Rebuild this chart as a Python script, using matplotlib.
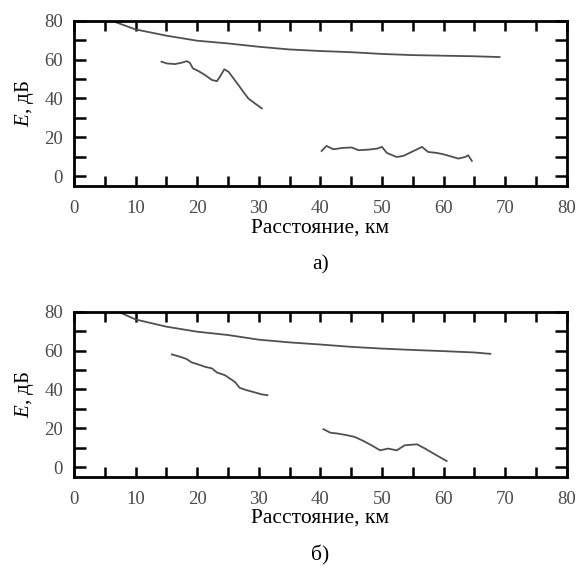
import matplotlib
matplotlib.use("Agg")
import matplotlib.pyplot as plt
from matplotlib.ticker import MultipleLocator

plt.rcParams["font.family"] = ["Liberation Serif", "DejaVu Serif"]
plt.rcParams["mathtext.fontset"] = "custom"
plt.rcParams["mathtext.rm"] = "Liberation Serif"
plt.rcParams["mathtext.it"] = "Liberation Serif:italic"

# --- panel a) ---
a_smooth_x = [6.1, 10, 15, 20, 25, 30, 35, 40, 45, 50, 55, 60, 65, 69.1]
a_smooth_y = [80, 75.5, 72.3, 69.7, 68.3, 66.6, 65.2, 64.4, 63.8, 62.9, 62.3, 62.0, 61.7, 61.3]

a_mid_x = [14.2, 15.1, 16.4, 17.5, 18.3, 18.8, 19.3, 20.2, 21.3, 22.4, 23.2, 23.7, 24.4,
           25.1, 25.9, 26.7, 27.5, 28.3, 29.4, 30.5]
a_mid_y = [58.9, 58.0, 57.7, 58.4, 59.2, 58.4, 55.5, 54.1, 52.0, 49.5, 48.9, 51.2, 55.0,
           53.7, 50.3, 46.9, 43.4, 40.0, 37.4, 34.9]

a_low_x = [40.2, 41.0, 42.1, 43.7, 45.1, 46.2, 47.8, 49.2, 50.0, 50.8, 52.4, 53.5, 54.8,
           56.5, 57.5, 58.9, 60.0, 61.1, 62.4, 63.5, 64.0, 64.6]
a_low_y = [13.0, 15.6, 13.9, 14.6, 14.8, 13.4, 13.7, 14.2, 15.1, 12.0, 9.9, 10.5, 12.5,
           15.1, 12.5, 12.0, 11.3, 10.3, 9.1, 9.9, 10.8, 7.9]

# --- panel б) ---
b_smooth_x = [7.2, 10, 15, 20, 25, 30, 35, 40, 45, 50, 55, 60, 65, 67.6]
b_smooth_y = [80, 76, 72.3, 69.7, 68, 65.6, 64.2, 63.1, 61.9, 61, 60.3, 59.7, 59, 58.3]

b_mid_x = [15.9, 16.9, 17.7, 18.3, 19.1, 20.2, 21.3, 22.4, 23.2, 24.5, 25.3, 26.1, 26.9,
           28.0, 29.4, 30.5, 31.4]
b_mid_y = [58.0, 57.1, 56.3, 55.6, 53.9, 52.8, 51.6, 50.8, 48.7, 47.3, 45.6, 43.9, 40.8,
           39.6, 38.4, 37.4, 37.0]

b_low_x = [40.5, 41.6, 42.9, 44.3, 45.6, 47.0, 48.3, 49.7, 51.0, 52.4, 53.7, 55.7, 57.0,
           58.4, 59.5, 60.5]
b_low_y = [19.5, 17.7, 17.2, 16.4, 15.5, 13.4, 11.2, 8.6, 9.5, 8.6, 11.2, 11.7, 9.5,
           6.9, 4.9, 3.1]

panels = [
    ("а)", [(a_smooth_x, a_smooth_y), (a_mid_x, a_mid_y), (a_low_x, a_low_y)]),
    ("б)", [(b_smooth_x, b_smooth_y), (b_mid_x, b_mid_y), (b_low_x, b_low_y)]),
]

fig = plt.figure(figsize=(5.79, 5.73), dpi=100)
rects = [[0.1278, 0.6754, 0.851, 0.2885], [0.1278, 0.168, 0.851, 0.288]]
line_color = "#505050"

for rect, (tag, series) in zip(rects, panels):
    ax = fig.add_axes(rect)
    for xs, ys in series:
        ax.plot(xs, ys, color=line_color, lw=1.3)
    ax.set_xlim(0, 80)
    ax.set_ylim(-5, 80)
    ax.xaxis.set_major_locator(MultipleLocator(10))
    ax.xaxis.set_minor_locator(MultipleLocator(5))
    ax.yaxis.set_major_locator(MultipleLocator(20))
    ax.yaxis.set_minor_locator(MultipleLocator(10))
    ax.tick_params(which="both", direction="in", top=True, right=True,
                   width=1.8, color="black")
    ax.tick_params(axis="x", which="both", length=7.5)
    ax.tick_params(axis="y", which="both", length=8.5)
    ax.tick_params(axis="x", which="major", pad=10, labelsize=13.5, labelcolor="#4a4a4a")
    ax.tick_params(axis="y", which="major", pad=8, labelsize=13.5, labelcolor="#4a4a4a")
    for s in ax.spines.values():
        s.set_linewidth(2.0)
    ax.set_xlabel("Расстояние, км", fontsize=15.5, labelpad=1)
    ax.set_ylabel("$E$, дБ", fontsize=15, labelpad=6)
    ax.text(0.5, -0.48, tag, transform=ax.transAxes, ha="center", va="center",
            fontsize=15.5)

fig.savefig("out.png", dpi=100, facecolor="white")
